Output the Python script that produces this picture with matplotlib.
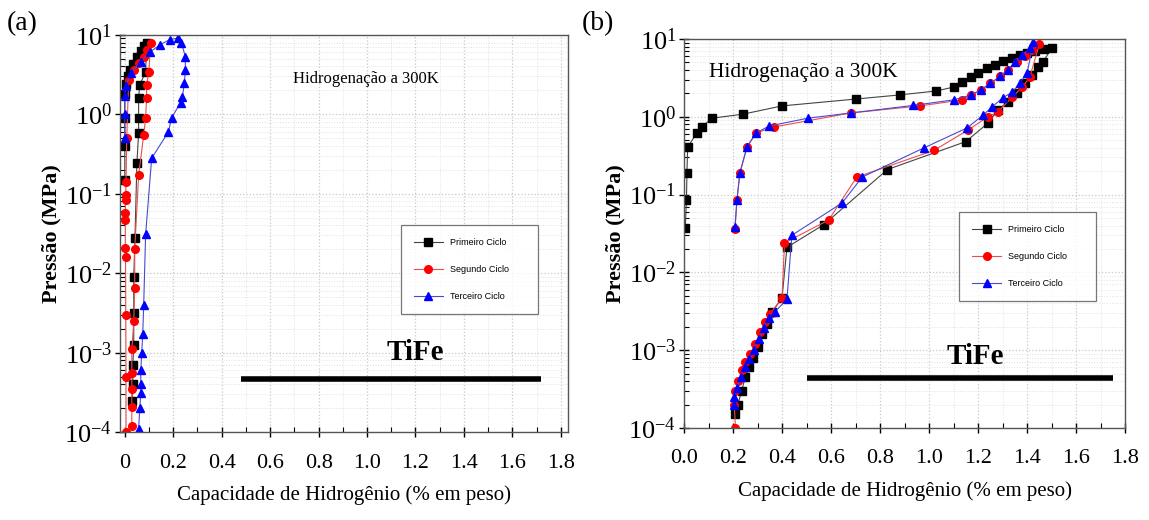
import matplotlib
matplotlib.use("Agg")
import matplotlib.pyplot as plt
from matplotlib.ticker import LogLocator, MultipleLocator, FixedLocator

plt.rcParams["font.family"] = ["Liberation Serif", "DejaVu Serif"]
plt.rcParams["mathtext.fontset"] = "stix"
plt.rcParams["axes.unicode_minus"] = False

# ---- panel (a) data ----
a_prim_x = [0.0, 0.0, 0.0, 0.0, 0.005, 0.012, 0.022, 0.035, 0.05, 0.065, 0.08, 0.09,
            0.086, 0.062, 0.057, 0.057, 0.057, 0.05, 0.042, 0.037, 0.037, 0.037, 0.033, 0.033, 0.03]
a_prim_y = [0.15, 0.4, 0.9, 1.8, 2.4, 3.0, 3.6, 4.3, 5.2, 6.2, 7.2, 8.0,
            3.43, 2.35, 1.62, 0.90, 0.58, 0.245, 0.028, 0.009, 0.0032, 0.00126, 0.0007, 0.0004, 0.00025]

a_seg_x = [0.005, 0.005, 0.004, 0.003, 0.002, 0.002, 0.002, 0.003, 0.004, 0.005, 0.008, 0.016, 0.037,
           0.057, 0.078, 0.09, 0.107,
           0.099, 0.09, 0.09, 0.086, 0.078, 0.057, 0.041, 0.041, 0.037, 0.029, 0.029, 0.029, 0.029, 0.029]
a_seg_y = [0.0001, 0.0005, 0.003, 0.016, 0.021, 0.047, 0.058, 0.084, 0.097, 0.14, 0.5, 2.7, 3.6,
           4.4, 5.3, 6.5, 8.0,
           3.4, 2.35, 1.62, 0.9, 0.55, 0.17, 0.02, 0.0065, 0.0025, 0.0011, 0.00056, 0.00035, 0.00021, 0.00012]

a_ter_x = [0.0, 0.0, 0.0, 0.005, 0.025, 0.065, 0.105, 0.145, 0.185, 0.22,
           0.234, 0.25, 0.25, 0.246, 0.238, 0.23, 0.193, 0.18, 0.111, 0.086, 0.078, 0.074,
           0.07, 0.066, 0.066, 0.066, 0.062, 0.057]
a_ter_y = [0.5, 1.0, 1.7, 2.3, 3.3, 4.6, 6.1, 7.5, 8.7, 9.1,
           7.9, 5.3, 3.6, 2.5, 1.66, 1.4, 0.9, 0.6, 0.28, 0.031, 0.004, 0.0017,
           0.001, 0.0006, 0.0004, 0.00031, 0.0002, 0.00011]

# ---- panel (b) data ----
b_prim_x = [0.005, 0.01, 0.012, 0.015, 0.053, 0.073, 0.114, 0.24, 0.40, 0.70, 0.88, 1.03, 1.10,
            1.135, 1.17, 1.20, 1.235, 1.27, 1.30, 1.34, 1.37, 1.40, 1.43, 1.47, 1.50,
            1.465, 1.445, 1.42, 1.39, 1.36, 1.32, 1.28, 1.24, 1.15, 0.83, 0.57, 0.42, 0.40,
            0.36, 0.34, 0.32, 0.30, 0.28, 0.265, 0.25, 0.235, 0.22, 0.21]
b_prim_y = [0.037, 0.085, 0.19, 0.41, 0.62, 0.74, 0.96, 1.08, 1.38, 1.69, 1.91, 2.15, 2.41,
            2.8, 3.2, 3.7, 4.2, 4.7, 5.2, 5.7, 6.2, 6.7, 7.1, 7.5, 7.7,
            5.06, 4.37, 3.45, 2.72, 2.02, 1.55, 1.22, 0.83, 0.48, 0.21, 0.041, 0.021, 0.0047,
            0.0031, 0.0022, 0.0016, 0.0011, 0.0008, 0.0006, 0.00045, 0.0003, 0.0002, 0.00015]

b_seg_x = [0.208, 0.216, 0.228, 0.257, 0.294, 0.367, 0.68, 0.963, 1.135, 1.17, 1.21, 1.25,
           1.29, 1.32, 1.36, 1.39, 1.42, 1.45,
           1.41, 1.38, 1.34, 1.28, 1.24, 1.16, 1.02, 0.705, 0.59, 0.41, 0.40,
           0.35, 0.33, 0.31, 0.29, 0.27, 0.25, 0.237, 0.22, 0.21, 0.205, 0.21]
b_seg_y = [0.036, 0.085, 0.19, 0.41, 0.62, 0.74, 1.12, 1.38, 1.65, 1.9, 2.2, 2.7,
           3.3, 4.0, 5.0, 6.0, 7.2, 8.6,
           3.2, 2.4, 1.8, 1.15, 1.0, 0.68, 0.37, 0.168, 0.047, 0.024, 0.0047,
           0.0029, 0.0023, 0.0017, 0.0012, 0.0009, 0.0007, 0.00055, 0.0004, 0.0003, 0.0002, 0.0001]

b_ter_x = [0.208, 0.216, 0.228, 0.257, 0.294, 0.347, 0.506, 0.68, 0.935, 1.10, 1.17, 1.21, 1.25,
           1.29, 1.32, 1.35, 1.38, 1.41, 1.425,
           1.40, 1.37, 1.34, 1.30, 1.257, 1.22, 1.155, 0.98, 0.727, 0.645, 0.44, 0.42,
           0.37, 0.345, 0.325, 0.305, 0.285, 0.265, 0.248, 0.232, 0.218, 0.205, 0.204]
b_ter_y = [0.038, 0.086, 0.19, 0.41, 0.62, 0.76, 0.96, 1.12, 1.4, 1.65, 1.9, 2.2, 2.7,
           3.3, 4.0, 5.0, 6.2, 7.6, 9.1,
           3.66, 2.72, 2.08, 1.75, 1.34, 1.05, 0.72, 0.40, 0.168, 0.078, 0.030, 0.0045,
           0.0031, 0.0026, 0.0019, 0.0014, 0.001, 0.00078, 0.0006, 0.00045, 0.00033, 0.00025, 0.0002]

labels = ["Primeiro Ciclo", "Segundo Ciclo", "Terceiro Ciclo"]
x_ticks = [0, 0.2, 0.4, 0.6, 0.8, 1.0, 1.2, 1.4, 1.6, 1.8]

fig = plt.figure(figsize=(11.49, 5.2), dpi=100)
ax_a = fig.add_axes([0.1044, 0.169, 0.390, 0.764])
ax_b = fig.add_axes([0.5953, 0.177, 0.384, 0.748])


def draw(ax, series, xlim, xlabels, leg_box, line_pos, tife_pos, hid_pos, hid_size):
    styles = [("s", "black", "#444444"), ("o", "red", "#e85050"), ("^", "blue", "#4a4ad0")]
    for (xs, ys), lab, (mk, mc, lc) in zip(series, labels, styles):
        ax.plot(xs, ys, color=lc, lw=0.8, marker=mk, ms=5.5, mfc=mc, mec=mc, label=lab)
    ax.set_yscale("log")
    ax.set_ylim(1e-4, 10)
    ax.set_xlim(*xlim)
    ax.xaxis.set_major_locator(FixedLocator(x_ticks))
    ax.set_xticklabels(xlabels)
    ax.xaxis.set_minor_locator(MultipleLocator(0.1))
    ax.yaxis.set_major_locator(LogLocator(base=10, numticks=10))
    ax.yaxis.set_minor_locator(LogLocator(base=10, subs=range(2, 10), numticks=10))
    ax.grid(True, which="major", color="#c8c8c8", ls=":", lw=0.9)
    ax.grid(True, which="minor", color="#e2e2e2", ls=":", lw=0.7)
    ax.tick_params(axis="both", which="major", direction="inout", length=7, width=1.0)
    ax.tick_params(axis="both", which="minor", direction="in", length=3.5, width=0.8)
    ax.tick_params(axis="y", labelsize=19, pad=2)
    ax.tick_params(axis="x", labelsize=16, pad=12)
    for sp in ax.spines.values():
        sp.set_color("#555555")
        sp.set_linewidth(1.0)
    ax.set_ylabel("Pressão (MPa)", fontsize=16, fontweight="bold", labelpad=2)
    ax.set_xlabel("Capacidade de Hidrogênio (% em peso)", fontsize=15, labelpad=9)
    ax.plot(line_pos[0], line_pos[1], color="black", lw=4, solid_capstyle="butt")
    ax.text(tife_pos[0], tife_pos[1], "TiFe", transform=ax.transAxes, fontsize=21,
            fontweight="bold", ha="center", va="center")
    ax.text(hid_pos[0], hid_pos[1], "Hidrogenação a 300K", transform=ax.transAxes,
            fontsize=hid_size, ha="center", va="center")
    leg = ax.legend(loc="lower left", bbox_to_anchor=leg_box, mode="expand",
                    prop={"family": "Liberation Sans", "size": 6.5}, frameon=True,
                    fancybox=False, edgecolor="#555555", labelspacing=2.0,
                    handlelength=3.2, borderpad=1.4, handletextpad=0.8)
    leg.get_frame().set_linewidth(0.9)


draw(ax_a, [(a_prim_x, a_prim_y), (a_seg_x, a_seg_y), (a_ter_x, a_ter_y)],
     (-0.02, 1.83), ["0", "0.2", "0.4", "0.6", "0.8", "1.0", "1.2", "1.4", "1.6", "1.8"],
     (0.618, 0.287, 0.326, 0.285),
     ([0.48, 1.72], [4.6e-4, 4.6e-4]), (0.66, 0.2), (0.55, 0.89), 12)
draw(ax_b, [(b_prim_x, b_prim_y), (b_seg_x, b_seg_y), (b_ter_x, b_ter_y)],
     (0.0, 1.8), ["0.0", "0.2", "0.4", "0.6", "0.8", "1.0", "1.2", "1.4", "1.6", "1.8"],
     (0.614, 0.316, 0.329, 0.27),
     ([0.50, 1.75], [4.4e-4, 4.4e-4]), (0.66, 0.185), (0.27, 0.915), 15.5)

fig.text(0.006, 0.955, "(a)", fontsize=20, ha="left", va="center")
fig.text(0.506, 0.955, "(b)", fontsize=20, ha="left", va="center")

fig.savefig("out.png", dpi=100)
